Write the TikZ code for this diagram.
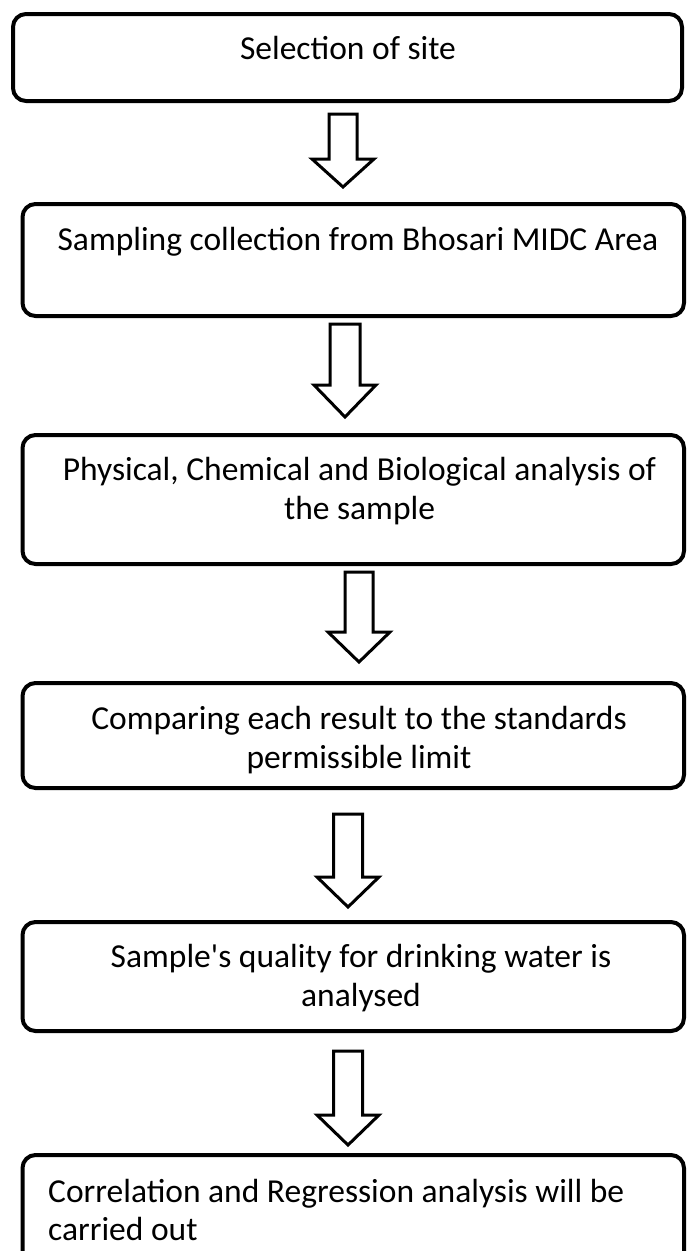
\documentclass[tikz,border=0pt]{standalone}
\usepackage{fontspec}
\setmainfont{Carlito}
\usetikzlibrary{calc,positioning}

% hollow block arrow: top, tip, half shaft width, head length
\newcommand{\hollowarrow}[4]{%
  \draw[arrowline] ($(#1)+(-#3,0)$) -- ($(#2)+(-#3,-#4)$) -- ($(#2)+(-31,-#4)$) -- (#2)
    -- ($(#2)+(31,-#4)$) -- ($(#2)+(#3,-#4)$) -- ($(#1)+(#3,0)$) -- cycle;}

\begin{document}
\begin{tikzpicture}[x=1pt,y=-1pt,
	stepbox/.style={draw,rounded corners=13pt,line width=4pt,inner sep=0pt,minimum width=661.5pt},
	steptext/.style={font=\fontsize{33.5}{38.5}\selectfont,align=center,inner sep=0pt},
	arrowline/.style={fill=white,line width=3pt,line join=miter}]
	\useasboundingbox (0,0) rectangle (686,1251);
	\node[stepbox,minimum width=669pt,minimum height=87pt] (site) at (347.5,57.5) {};
	\node[stepbox,minimum height=112pt] (coll) at (353.25,260) {};
	\node[stepbox,minimum height=129pt] (anal) at (353.25,499.5) {};
	\node[stepbox,minimum height=105pt] (comp) at (353.25,735.5) {};
	\node[stepbox,minimum height=109pt] (qual) at (353.25,976.5) {};
	\node[stepbox,minimum height=135pt] (corr) at (353.25,1222.5) {};

	\node[steptext] (sitetxt) at (348,48) {Selection of site};
	\node[steptext] (colltxt) at (358,242) {Sampling collection from Bhosari MIDC Area};
	\node[steptext] (analtxt) at (359.5,491) {Physical, Chemical and Biological analysis of\\the sample};
	\node[steptext] (comptxt) at (359,740) {Comparing each result to the standards\\permissible limit};
	\node[steptext] (qualtxt) at (361,978) {Sample\textquotesingle s quality for drinking water is\\analysed};
	\node[steptext,align=left,anchor=west] (corrtxt) at (48,1210) {Correlation and Regression analysis will be\\carried out};

	\coordinate (a1top) at (343,114);  \coordinate (a1tip) at (343,187);
	\coordinate (a2top) at (345,324);  \coordinate (a2tip) at (345,417);
	\coordinate (a3top) at (359,572);  \coordinate (a3tip) at (359,662);
	\coordinate (a4top) at (348,814);  \coordinate (a4tip) at (348,907);
	\coordinate (a5top) at (348,1051); \coordinate (a5tip) at (348,1145);
	\hollowarrow{a1top}{a1tip}{14}{28}
	\hollowarrow{a2top}{a2tip}{15}{32}
	\hollowarrow{a3top}{a3tip}{14}{30}
	\hollowarrow{a4top}{a4tip}{14.5}{30}
	\hollowarrow{a5top}{a5tip}{14.5}{30}
\end{tikzpicture}
\end{document}
